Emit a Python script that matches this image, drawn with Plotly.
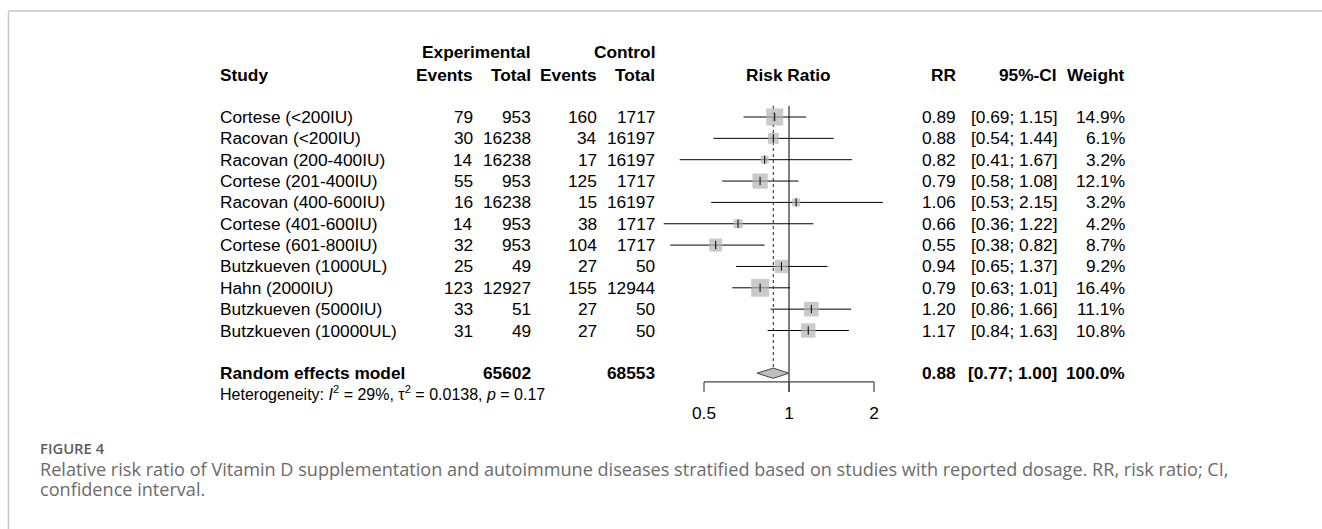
import math
import plotly.graph_objects as go

# ---------------- data ----------------
studies = ["Cortese (<200IU)", "Racovan (<200IU)", "Racovan (200-400IU)", "Cortese (201-400IU)",
           "Racovan (400-600IU)", "Cortese (401-600IU)", "Cortese (601-800IU)", "Butzkueven (1000UL)",
           "Hahn (2000IU)", "Butzkueven (5000IU)", "Butzkueven (10000UL)"]
exp_events = [79, 30, 14, 55, 16, 14, 32, 25, 123, 33, 31]
exp_total = [953, 16238, 16238, 953, 16238, 953, 953, 49, 12927, 51, 49]
ctrl_events = [160, 34, 17, 125, 15, 38, 104, 27, 155, 27, 27]
ctrl_total = [1717, 16197, 16197, 1717, 16197, 1717, 1717, 50, 12944, 50, 50]
rr = [0.89, 0.88, 0.82, 0.79, 1.06, 0.66, 0.55, 0.94, 0.79, 1.20, 1.17]
ci_low = [0.69, 0.54, 0.41, 0.58, 0.53, 0.36, 0.38, 0.65, 0.63, 0.86, 0.84]
ci_high = [1.15, 1.44, 1.67, 1.08, 2.15, 1.22, 0.82, 1.37, 1.01, 1.66, 1.63]
weight = [14.9, 6.1, 3.2, 12.1, 3.2, 4.2, 8.7, 9.2, 16.4, 11.1, 10.8]

pooled_label = "Random effects model"
pooled_exp_total = 65602
pooled_ctrl_total = 68553
pooled_rr = 0.88
pooled_low = 0.77
pooled_high = 1.00
pooled_weight = 100.0
het_i2 = 29
het_tau2 = 0.0138
het_p = 0.17

tick_vals = [0.5, 1, 2]
tick_labels = ["0.5", "1", "2"]

caption_title = "FIGURE 4"
caption_lines = [
    "Relative risk ratio of Vitamin D supplementation and autoimmune diseases stratified based on studies with reported dosage. RR, risk ratio; CI,",
    "confidence interval.",
]

# ---------------- layout constants ----------------
W, H = 1322, 529
ROW0_PX, ROW_PX = 117.0, 21.35
ONE_PX, DEC_PX = 789.0, 85.0 / math.log10(2)
FONT = "Liberation Sans, Arial, sans-serif"
FS = 17.3
n = len(studies)
pool_row = n + 1
axis_row = 12.41
tick_end_row = 12.88
ticklab_row = 13.96
het_row = 12.95
hdr1_row, hdr2_row = -3.03, -1.98
top_row = -0.52
diam_h = 0.24

def px(x):
    return x / W

fig = go.Figure()

# CI lines
cx, cy = [], []
for i in range(n):
    cx += [ci_low[i], ci_high[i], None]
    cy += [i, i, None]
fig.add_trace(go.Scatter(x=cx, y=cy, mode="lines", line=dict(color="black", width=1),
                         hoverinfo="skip", showlegend=False))

# reference line at 1 and dotted pooled line
fig.add_trace(go.Scatter(x=[1, 1], y=[top_row, tick_end_row], mode="lines",
                         line=dict(color="black", width=1), hoverinfo="skip", showlegend=False))
fig.add_trace(go.Scatter(x=[pooled_rr, pooled_rr], y=[top_row, pool_row - diam_h], mode="lines",
                         line=dict(color="#333333", width=1.1, dash="dot"), hoverinfo="skip", showlegend=False))

# squares (area proportional to weight)
fig.add_trace(go.Scatter(x=rr, y=list(range(n)), mode="markers",
                         marker=dict(symbol="square", color="#b3b3b3",
                                     size=[4.4 * math.sqrt(w) for w in weight], line=dict(width=0)),
                         hoverinfo="skip", showlegend=False))
fig.add_trace(go.Scatter(x=rr, y=list(range(n)), mode="markers",
                         marker=dict(symbol="line-ns", size=6, line=dict(color="black", width=1)),
                         hoverinfo="skip", showlegend=False))

# diamond
fig.add_trace(go.Scatter(x=[pooled_low, pooled_rr, pooled_high, pooled_rr, pooled_low],
                         y=[pool_row, pool_row - diam_h, pool_row, pool_row + diam_h, pool_row],
                         mode="lines", fill="toself", fillcolor="#bdbdbd",
                         line=dict(color="#444444", width=1), hoverinfo="skip", showlegend=False))

# axis line, ticks, tick labels
fig.add_trace(go.Scatter(x=[tick_vals[0], tick_vals[-1]], y=[axis_row, axis_row], mode="lines",
                         line=dict(color="#444444", width=1.2), hoverinfo="skip", showlegend=False))
tx, ty = [], []
for t in tick_vals:
    tx += [t, t, None]
    ty += [axis_row, tick_end_row, None]
fig.add_trace(go.Scatter(x=tx, y=ty, mode="lines", line=dict(color="#444444", width=1.2),
                         hoverinfo="skip", showlegend=False))
fig.add_trace(go.Scatter(x=tick_vals, y=[ticklab_row] * len(tick_vals), mode="text", text=tick_labels,
                         textposition="middle center", textfont=dict(family=FONT, size=FS, color="black"),
                         hoverinfo="skip", showlegend=False))

# ---------------- text columns ----------------
ann = []

def txt(x, y, s, anchor="right", bold=False, size=FS, color="black"):
    ann.append(dict(x=x, y=y, xref="paper", yref="y", text=s, showarrow=False, xanchor=anchor,
                    yanchor="middle", font=dict(family=FONT, size=size, color=color,
                                                weight="bold" if bold else "normal")))

COL_STUDY = px(218)
COL_EE, COL_ET, COL_CE, COL_CT = px(475), px(533), px(599), px(657)
COL_RR, COL_CI, COL_W = px(958), px(1059), px(1127)

# headers
txt(COL_ET, hdr1_row, "Experimental", bold=True)
txt(COL_CT, hdr1_row, "Control", bold=True)
txt(COL_STUDY, hdr2_row, "Study", anchor="left", bold=True)
txt(COL_EE, hdr2_row, "Events", bold=True)
txt(COL_ET, hdr2_row, "Total", bold=True)
txt(COL_CE, hdr2_row, "Events", bold=True)
txt(COL_CT, hdr2_row, "Total", bold=True)
txt(px(ONE_PX), hdr2_row, "Risk Ratio", anchor="center", bold=True)
txt(COL_RR, hdr2_row, "RR", bold=True)
txt(COL_CI, hdr2_row, "95%-CI", bold=True)
txt(COL_W, hdr2_row, "Weight", bold=True)

for i in range(n):
    txt(COL_STUDY, i, studies[i], anchor="left")
    txt(COL_EE, i, str(exp_events[i]))
    txt(COL_ET, i, str(exp_total[i]))
    txt(COL_CE, i, str(ctrl_events[i]))
    txt(COL_CT, i, str(ctrl_total[i]))
    txt(COL_RR, i, f"{rr[i]:.2f}")
    txt(COL_CI, i, f"[{ci_low[i]:.2f}; {ci_high[i]:.2f}]")
    txt(COL_W, i, f"{weight[i]:.1f}%")

txt(COL_STUDY, pool_row, pooled_label, anchor="left", bold=True)
txt(COL_ET, pool_row, str(pooled_exp_total), bold=True)
txt(COL_CT, pool_row, str(pooled_ctrl_total), bold=True)
txt(COL_RR, pool_row, f"{pooled_rr:.2f}", bold=True)
txt(COL_CI, pool_row, f"[{pooled_low:.2f}; {pooled_high:.2f}]", bold=True)
txt(COL_W, pool_row, f"{pooled_weight:.1f}%", bold=True)

txt(COL_STUDY, het_row,
    f"Heterogeneity: <i>I</i><sup>2</sup> = {het_i2}%, \u03c4<sup>2</sup> = {het_tau2}, <i>p</i> = {het_p}",
    anchor="left", size=16)

# caption
CAP_FONT = "Open Sans, Lato, sans-serif"
ann.append(dict(x=px(38), y=1 - 448 / H, xref="paper", yref="paper", text=caption_title, showarrow=False,
                xanchor="left", yanchor="middle",
                font=dict(family=CAP_FONT, size=14.8, color="#5c5c5c", weight=600)))
for k, line in enumerate(caption_lines):
    ann.append(dict(x=px(38), y=1 - (469 + 20 * k) / H, xref="paper", yref="paper", text=line,
                    showarrow=False, xanchor="left", yanchor="middle",
                    font=dict(family=CAP_FONT, size=18.1, color="#6b6b6b")))

# frame (decorative border of the figure panel)
shapes = [
    dict(type="line", xref="paper", yref="paper", x0=px(8.5), x1=1, y0=1 - 11 / H, y1=1 - 11 / H,
         line=dict(color="#c8c8c8", width=1.5)),
    dict(type="line", xref="paper", yref="paper", x0=px(8.5), x1=px(8.5), y0=1 - 11 / H, y1=0,
         line=dict(color="#c8c8c8", width=1.5)),
]

x0_log = -ONE_PX / DEC_PX
x1_log = (W - ONE_PX) / DEC_PX
y_top = -ROW0_PX / ROW_PX
y_bot = (H - ROW0_PX) / ROW_PX

fig.update_layout(
    width=W, height=H, autosize=False,
    margin=dict(l=0, r=0, t=0, b=0),
    paper_bgcolor="white", plot_bgcolor="white",
    xaxis=dict(type="log", range=[x0_log, x1_log], domain=[0, 1], visible=False, fixedrange=True),
    yaxis=dict(range=[y_bot, y_top], domain=[0, 1], visible=False, fixedrange=True),
    annotations=ann, shapes=shapes, showlegend=False,
)

fig.write_html("out.html", config={"displayModeBar": False},
               post_script="document.body.style.margin='0px';document.body.style.overflow='hidden';")
